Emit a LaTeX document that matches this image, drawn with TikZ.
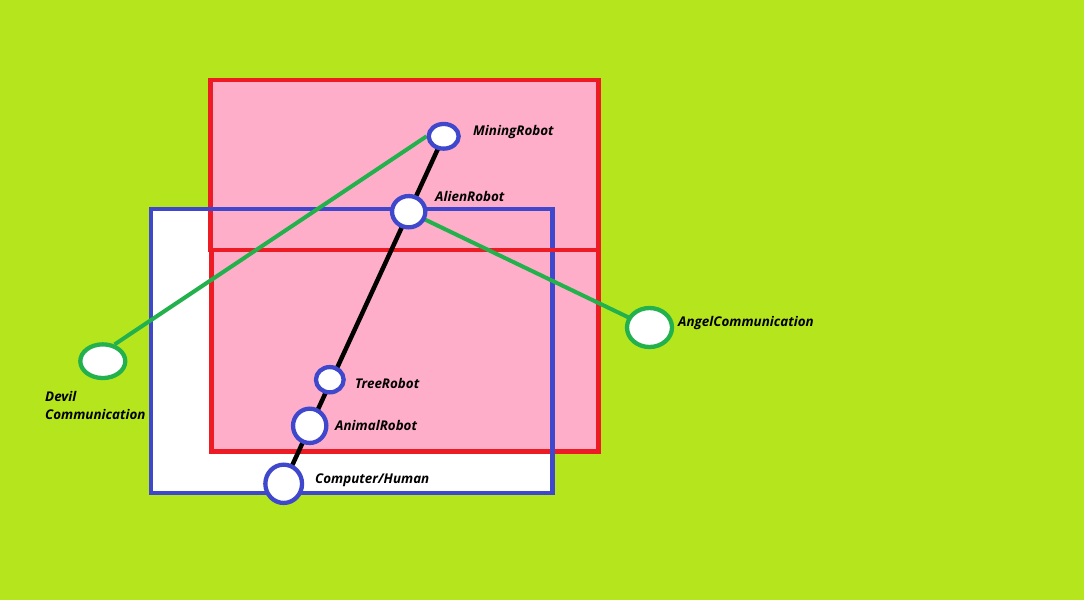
\documentclass[tikz,border=0pt]{standalone}
\usepackage{fontspec}
\setmainfont{Open Sans}
\usetikzlibrary{shapes.geometric,calc}
\definecolor{limeC}{RGB}{181,230,29}
\definecolor{pinkC}{RGB}{255,174,201}
\definecolor{redC}{RGB}{237,28,36}
\definecolor{blueC}{RGB}{63,72,204}
\definecolor{greenC}{RGB}{34,177,76}
\pgfdeclarelayer{back}
\pgfdeclarelayer{mid}
\pgfsetlayers{back,mid,main}
\begin{document}
\begin{tikzpicture}[x=1pt,y=-1pt,
  rob/.style={ellipse, draw=blueC, fill=white, line width=4.3pt, inner sep=0pt},
  com/.style={ellipse, draw=greenC, fill=white, line width=4.3pt, inner sep=0pt},
  lab/.style={anchor=west, inner sep=0pt, text=black, font=\fontsize{13.4}{17.3}\selectfont\bfseries\itshape},
  redline/.style={draw=redC, line width=4.5pt},
  blueline/.style={draw=blueC, line width=4.5pt},
  blk/.style={draw=black, line width=4.5pt},
  grn/.style={draw=greenC, line width=4pt}]
\useasboundingbox (0,0) rectangle (1084,600);
\begin{pgfonlayer}{back}
  \fill[limeC] (0,0) rectangle (1084,600);
  \fill[white] (151,209) rectangle (552.5,493);
  \fill[pinkC] (210.5,80) rectangle (598.5,250);
  \fill[pinkC] (211.7,250) rectangle (598.5,451.5);
  \draw[redline] (210.5,80) rectangle (598.5,250);
  \draw[redline] (211.7,250) rectangle (598.5,451.5);
  \draw[blueline] (151,209) rectangle (552.5,493);
  \draw[redline] (210.5,250) -- (598.5,250);
\end{pgfonlayer}

\node[rob, minimum width=30pt, minimum height=24.7pt] (mr) at (443.7,136.3) {};
\node[rob, minimum width=33.3pt, minimum height=31.3pt] (ar) at (408.7,211.7) {};
\node[rob, minimum width=27.7pt, minimum height=25.3pt] (tr) at (329.8,379.7) {};
\node[rob, minimum width=33.3pt, minimum height=34.3pt] (an) at (309.7,425.8) {};
\node[rob, minimum width=36.7pt, minimum height=38.3pt] (ch) at (283.7,483.8) {};
\node[com, minimum width=45pt, minimum height=33.7pt] (dv) at (102.8,361.2) {};
\node[com, minimum width=45pt, minimum height=39pt] (ag) at (649.5,327.5) {};

\begin{pgfonlayer}{mid}
  \draw[blk] (ch.center) -- ($(ch.center)!1.02!(mr.center)$);
  \draw[grn] (dv.55) -- (mr.west);
  \draw[grn] (ar.center) -- (ag.center);
\end{pgfonlayer}

\node[lab] (lmr) at (473,132.5) {MiningRobot};
\node[lab] (lar) at (435,196.2) {AlienRobot};
\node[lab] (ltr) at (355,383) {TreeRobot};
\node[lab] (lan) at (335,425.5) {AnimalRobot};
\node[lab] (lch) at (315,480.5) {Computer/Human};
\node[lab] (lag) at (678,323.5) {AngelCommunication};
\node[lab, align=left] (ldv) at (45,405.5) {Devil\\Communication};
\end{tikzpicture}
\end{document}
